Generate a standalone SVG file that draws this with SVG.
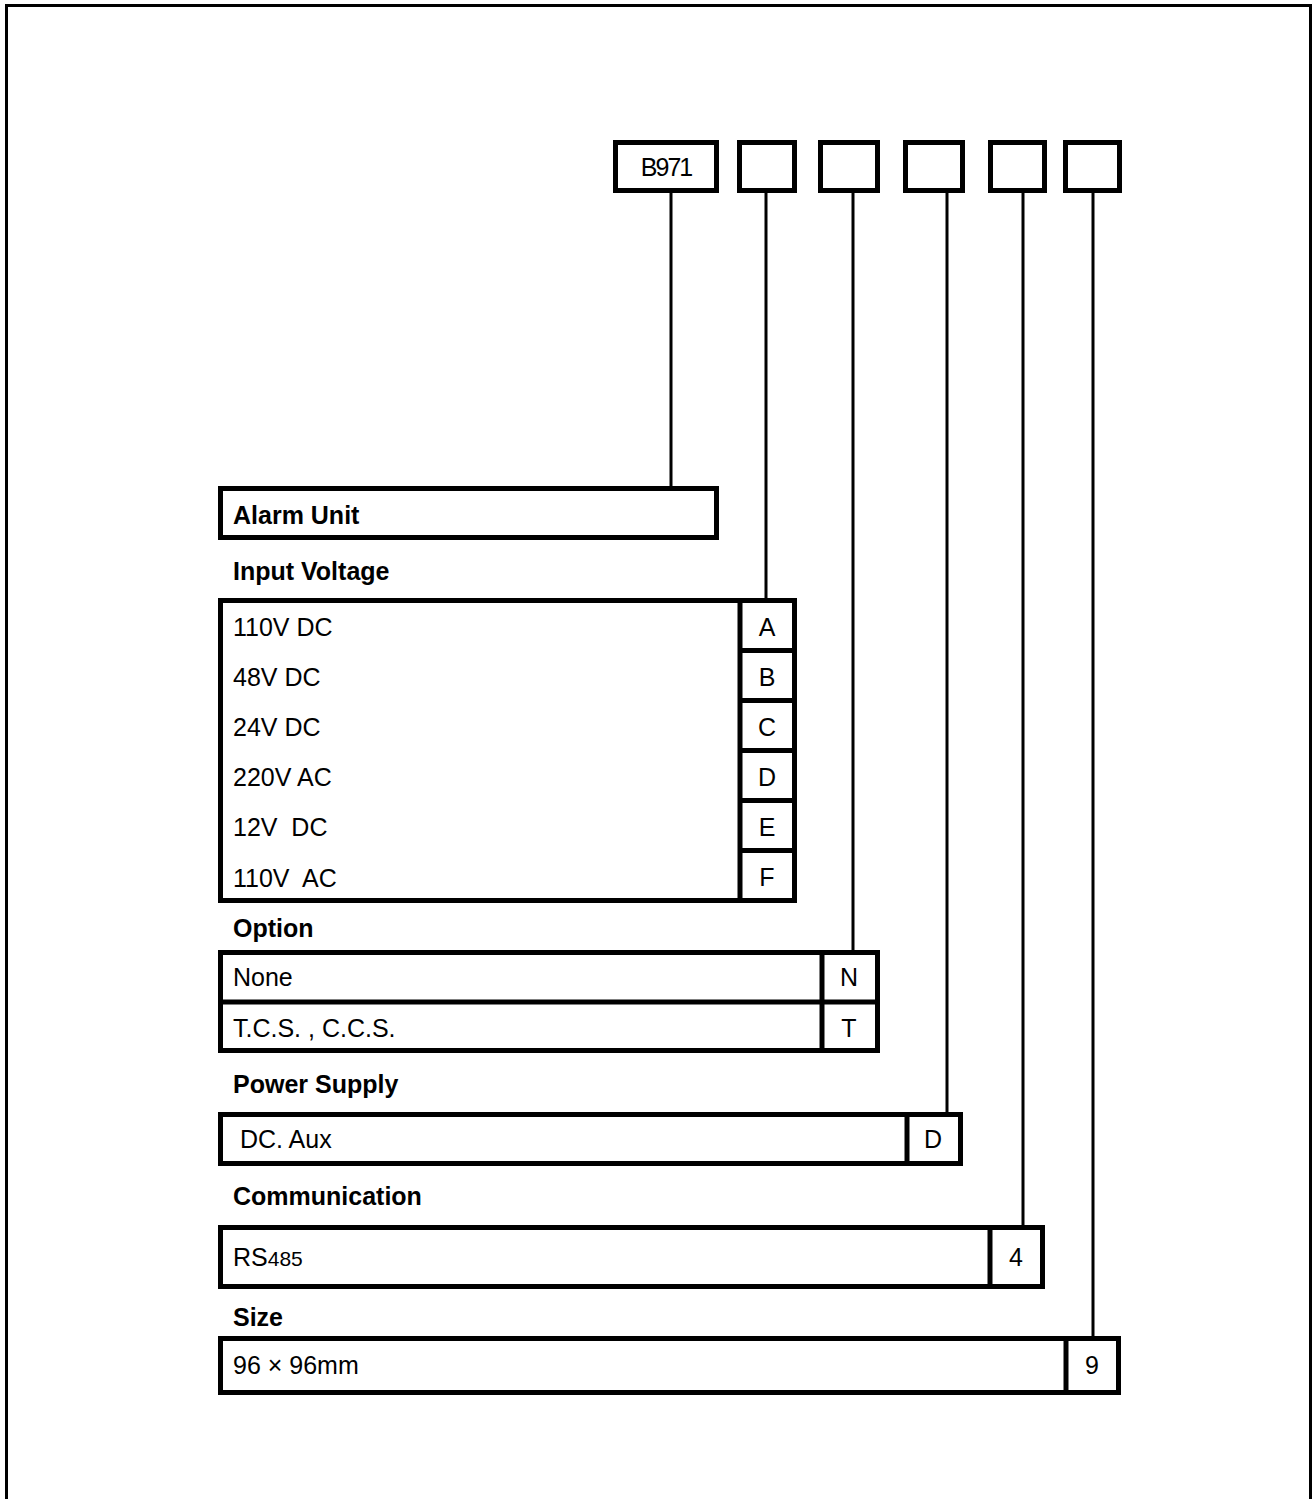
<svg xmlns="http://www.w3.org/2000/svg" width="1312" height="1499" viewBox="0 0 1312 1499">
<style>
  .box { fill: #fff; stroke: #000; stroke-width: 5; }
  .sep { stroke: #000; stroke-width: 5; fill: none; }
  .conn { stroke: #000; stroke-width: 3; fill: none; }
  .t { font-family: "Liberation Sans", Arial, sans-serif; font-size: 25px; fill: #000; }
  .h { font-family: "Liberation Sans", Arial, sans-serif; font-size: 25px; font-weight: bold; fill: #000; }
  .c { text-anchor: middle; }
</style>
<rect x="0" y="0" width="1312" height="1499" fill="#fff"/>
<rect x="6.5" y="5.5" width="1304" height="1510" fill="none" stroke="#000" stroke-width="3"/>

<g id="connectors">
  <line class="conn" x1="671" y1="190" x2="671" y2="488"/>
  <line class="conn" x1="766" y1="190" x2="766" y2="600"/>
  <line class="conn" x1="853" y1="190" x2="853" y2="952"/>
  <line class="conn" x1="947" y1="190" x2="947" y2="1114"/>
  <line class="conn" x1="1023" y1="190" x2="1023" y2="1227"/>
  <line class="conn" x1="1093" y1="190" x2="1093" y2="1338"/>
</g>

<g id="code-b971">
  <rect class="box" x="615.5" y="142.5" width="101" height="48"/>
  <text class="t c" x="666" y="176" letter-spacing="-2">B971</text>
</g>
<g id="code-box-2"><rect class="box" x="739.5" y="142.5" width="55" height="48"/></g>
<g id="code-box-3"><rect class="box" x="820.5" y="142.5" width="57" height="48"/></g>
<g id="code-box-4"><rect class="box" x="905.5" y="142.5" width="57" height="48"/></g>
<g id="code-box-5"><rect class="box" x="990.5" y="142.5" width="54" height="48"/></g>
<g id="code-box-6"><rect class="box" x="1065.5" y="142.5" width="54" height="48"/></g>

<g id="alarm-unit">
  <rect class="box" x="220.5" y="488.5" width="496" height="49"/>
  <text class="h" x="233" y="524">Alarm Unit</text>
</g>

<g id="input-voltage">
  <text class="h" x="233" y="580">Input Voltage</text>
  <rect class="box" x="220.5" y="600.5" width="574" height="300"/>
  <line class="sep" x1="740" y1="600" x2="740" y2="900"/>
  <line class="sep" x1="740" y1="650.5" x2="795" y2="650.5"/>
  <line class="sep" x1="740" y1="700.5" x2="795" y2="700.5"/>
  <line class="sep" x1="740" y1="750.5" x2="795" y2="750.5"/>
  <line class="sep" x1="740" y1="800.5" x2="795" y2="800.5"/>
  <line class="sep" x1="740" y1="850.5" x2="795" y2="850.5"/>
  <text class="t" x="233" y="636">110V DC</text>
  <text class="t" x="233" y="686">48V DC</text>
  <text class="t" x="233" y="736">24V DC</text>
  <text class="t" x="233" y="786">220V AC</text>
  <text class="t" x="233" y="836" xml:space="preserve">12V  DC</text>
  <text class="t" x="233" y="887" xml:space="preserve">110V  AC</text>
  <text class="t c" x="767" y="636">A</text>
  <text class="t c" x="767" y="686">B</text>
  <text class="t c" x="767" y="736">C</text>
  <text class="t c" x="767" y="786">D</text>
  <text class="t c" x="767" y="836">E</text>
  <text class="t c" x="767" y="886">F</text>
</g>

<g id="option">
  <text class="h" x="233" y="937">Option</text>
  <rect class="box" x="220.5" y="952.5" width="657" height="98"/>
  <line class="sep" x1="220" y1="1002" x2="878" y2="1002"/>
  <line class="sep" x1="822" y1="952" x2="822" y2="1050"/>
  <text class="t" x="233" y="986">None</text>
  <text class="t" x="233" y="1037">T.C.S. , C.C.S.</text>
  <text class="t c" x="849" y="986">N</text>
  <text class="t c" x="849" y="1037">T</text>
</g>

<g id="power-supply">
  <text class="h" x="233" y="1093">Power Supply</text>
  <rect class="box" x="220.5" y="1114.5" width="740" height="49"/>
  <line class="sep" x1="907" y1="1114" x2="907" y2="1164"/>
  <text class="t" x="240" y="1148">DC. Aux</text>
  <text class="t c" x="933" y="1148">D</text>
</g>

<g id="communication">
  <text class="h" x="233" y="1205">Communication</text>
  <rect class="box" x="220.5" y="1227.5" width="822" height="59"/>
  <line class="sep" x1="990" y1="1227" x2="990" y2="1287"/>
  <text class="t" x="233" y="1266">RS<tspan font-size="21">485</tspan></text>
  <text class="t c" x="1016" y="1266">4</text>
</g>

<g id="size">
  <text class="h" x="233" y="1326">Size</text>
  <rect class="box" x="220.5" y="1338.5" width="898" height="54"/>
  <line class="sep" x1="1066" y1="1338" x2="1066" y2="1393"/>
  <text class="t" x="233" y="1374">96 × 96mm</text>
  <text class="t c" x="1092" y="1374">9</text>
</g>
</svg>
